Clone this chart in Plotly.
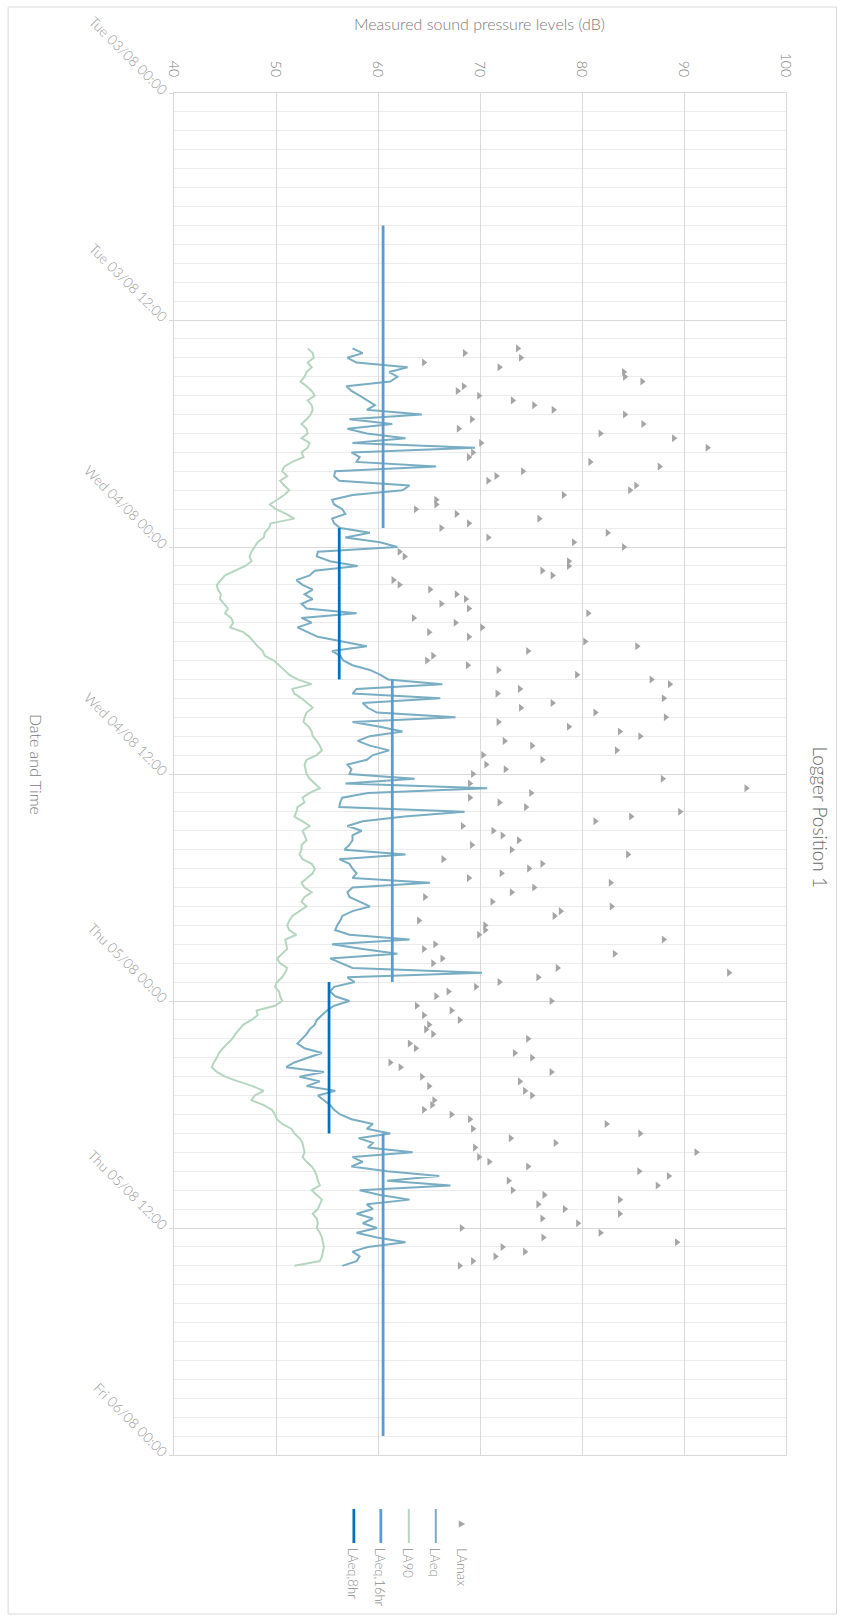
import pandas as pd
import plotly.graph_objects as go

# ---------------- data (15-minute intervals) ----------------
start_time = "2021-08-03 13:30"

laeq = [57.5, 58.5, 57.0, 57.9, 62.9, 61.1, 61.9, 61.2, 56.9, 57.4, 58.2, 59.0, 59.7, 58.9, 64.3, 57.2,
        61.4, 57.0, 58.9, 62.7, 57.5, 69.5, 57.4, 58.2, 57.9, 65.7, 55.8, 55.7, 56.2, 63.1, 62.4, 57.5,
        55.5, 55.7, 56.5, 56.8, 55.5, 55.7, 56.3, 59.2, 56.8, 60.2, 61.9, 54.1, 54.0, 55.3, 58.0, 53.8,
        53.3, 52.0, 52.6, 53.6, 52.8, 53.6, 52.5, 53.0, 57.9, 52.5, 53.5, 52.1, 53.1, 54.1, 56.5, 58.9,
        55.5, 56.3, 56.6, 57.5, 59.2, 60.2, 61.0, 66.3, 57.9, 57.5, 66.1, 58.5, 59.0, 59.9, 67.6, 57.5,
        60.2, 62.4, 59.2, 58.0, 59.2, 61.1, 59.5, 58.9, 57.0, 57.4, 57.2, 63.6, 56.8, 70.7, 59.0, 56.5,
        56.3, 56.2, 68.5, 62.6, 58.5, 57.0, 58.4, 57.5, 57.5, 57.2, 56.7, 62.7, 56.2, 57.2, 57.5, 57.9,
        57.5, 65.1, 57.5, 57.0, 57.2, 58.2, 59.2, 57.5, 56.5, 56.3, 56.0, 55.8, 57.2, 63.1, 55.5, 58.5,
        61.9, 55.3, 56.5, 57.5, 70.2, 57.0, 57.7, 55.7, 55.3, 55.8, 57.2, 55.7, 55.0, 54.5, 54.0, 53.8,
        53.3, 53.0, 52.5, 52.1, 52.8, 54.5, 53.1, 51.8, 51.0, 54.7, 52.3, 54.3, 53.0, 55.8, 54.1, 54.7,
        55.3, 55.7, 56.3, 57.4, 59.5, 58.9, 61.2, 58.1, 59.5, 59.0, 63.4, 57.5, 58.5, 57.4, 60.9, 66.0,
        60.9, 67.1, 58.2, 60.2, 63.1, 58.9, 59.5, 57.9, 59.5, 58.5, 59.9, 57.9, 59.9, 62.7, 59.0, 57.5,
        58.2, 57.9, 56.5]

la90 = [53.1, 53.6, 53.7, 53.1, 53.5, 53.0, 52.8, 52.4, 53.0, 53.5, 53.8, 53.1, 53.5, 53.6, 53.4, 53.0,
        52.5, 53.0, 53.1, 52.5, 53.3, 53.1, 52.5, 52.7, 51.6, 50.8, 50.6, 51.1, 50.4, 50.8, 51.3,
        50.8, 50.1, 49.4, 50.0, 51.0, 51.8, 49.5, 49.3, 48.9, 48.8, 48.2, 47.9, 47.6, 47.4, 47.6, 47.0,
        46.0, 45.0, 44.6, 44.2, 44.3, 44.6, 44.5, 44.9, 45.3, 45.0, 45.6, 45.8, 45.5, 46.8, 47.4, 47.8,
        48.2,
        48.7, 48.9, 49.8, 50.3, 50.8, 51.3, 52.1, 53.5, 51.6, 51.8, 52.5, 53.0, 53.6, 53.0, 52.8, 52.7,
        53.2, 53.5, 53.6, 54.0, 54.3, 54.5, 54.0, 53.0, 52.8, 52.9, 53.0, 53.3, 53.8, 54.3, 53.3, 52.6,
        52.8,
        52.1, 52.0, 51.8, 52.6, 53.3, 52.6, 52.8, 53.0, 52.5, 52.5, 52.3, 52.6, 53.5, 53.8, 53.6, 53.0,
        52.5, 52.8, 53.5, 52.8, 52.5, 53.0, 52.3, 51.6, 51.3, 51.1, 51.3, 52.0, 50.9, 51.0, 51.1, 50.6,
        50.1,
        50.4, 51.1, 50.9, 50.6, 50.1, 49.9, 50.3, 50.4, 50.6, 49.9, 48.1, 48.2, 47.6, 46.8, 46.4, 46.0,
        45.7, 45.2, 44.8, 44.4, 44.2, 43.9, 43.7, 44.2, 45.0, 46.3, 47.7, 48.8, 47.9, 47.6, 48.8, 49.6,
        49.9, 50.1, 50.6, 51.5, 51.8, 52.3, 52.6, 52.7, 52.8, 52.6, 53.0, 53.5, 53.8, 54.0, 54.1, 54.3,
        53.5, 54.0, 54.5, 54.3, 54.1, 53.6, 54.0, 54.1, 54.0, 54.3, 54.5, 54.6, 54.7, 54.6, 54.5, 54.3,
        51.8]

lamax = [73.7, 68.5, 74.0, 64.5, 71.9, 84.1, 84.2, 85.9, 68.4, 67.8, 69.9, 73.2, 75.3, 77.2, 84.2, 69.2,
         86.0, 67.9, 81.8, 89.0, 70.1, 92.3, 69.3, 68.9, 80.8, 87.6, 74.2, 71.6, 70.8, 85.3, 84.7, 78.2,
         65.7, 65.7, 63.7, 67.7, 75.8, 68.9, 66.2, 82.5, 70.8, 79.2, 84.1, 62.1, 62.6, 78.7, 78.7, 76.1,
         77.1, 61.5, 62.1, 65.1, 67.7, 68.6, 66.2, 68.9, 80.6, 63.5, 67.6, 70.2, 65.0, 68.9, 80.3, 85.4,
         74.7, 65.4, 64.8, 68.8, 71.8, 79.5, 86.8, 88.6, 73.9, 71.7, 88.0, 77.1, 74.0, 81.3, 88.2, 71.8,
         78.7, 83.7, 85.7, 72.4, 75.1, 83.4, 70.3, 76.1, 70.6, 72.5, 69.3, 87.9, 69.0, 96.1, 75.0, 69.0,
         71.9, 74.5, 89.6, 84.8, 81.3, 68.3, 71.3, 72.2, 73.8, 69.2, 73.1, 84.5, 66.4, 76.1, 74.8, 72.1,
         68.9, 82.8, 75.3, 73.1, 64.6, 71.2, 82.9, 77.9, 77.3, 64.0, 70.5, 70.5, 69.9, 88.0, 65.6, 64.5,
         83.2, 66.3, 65.4, 77.6, 94.4, 75.7, 71.9, 69.6, 66.9, 65.7, 77.0, 63.8, 67.2, 64.5, 68.0, 65.0,
         64.7, 65.4, 74.7, 63.1, 63.7, 73.4, 75.1, 61.2, 62.2, 77.0, 64.3, 73.9, 65.0, 74.4, 75.1, 65.5,
         65.3, 64.5, 67.2, 69.0, 82.4, 69.3, 85.7, 73.0, 77.4, 69.5, 91.2, 69.9, 70.9, 74.7, 85.6, 88.5,
         72.8, 87.4, 73.2, 76.3, 83.7, 75.7, 78.3, 83.7, 76.1, 79.6, 68.2, 81.8, 76.2, 89.3, 72.2, 74.4,
         71.5, 69.3, 68.0]

# period averages
day_start = ["2021-08-03 07:00", "2021-08-04 07:00", "2021-08-05 07:00"]
day_end = ["2021-08-03 23:00", "2021-08-04 23:00", "2021-08-05 23:00"]
day_laeq16 = [60.5, 61.4, 60.5]
night_start = ["2021-08-03 23:00", "2021-08-04 23:00"]
night_end = ["2021-08-04 07:00", "2021-08-05 07:00"]
night_laeq8 = [56.2, 55.2]

x_range = [40, 100]
y_range = ["2021-08-06 00:00", "2021-08-03 00:00"]
legend_names = ["LAeq,8hr", "LAeq,16hr", "LA90", "LAeq", "LAmax"]

# ---------------- styling ----------------
FONT = "Lato"
GRAY = "#8c8c8c"
GRID = "#d9d9d9"
C_LAEQ = "#79adc3"
C_LA90 = "#b6d6c0"
C_16 = "#5b9bd5"
C_8 = "#0070c0"
C_MAX = "#a5a5a5"

times = pd.date_range(start_time, periods=len(laeq), freq="15min")


def segments(starts, ends, vals):
    xs, ys = [], []
    for s, e, v in zip(starts, ends, vals):
        xs += [v, v, None]
        ys += [pd.Timestamp(s), pd.Timestamp(e), None]
    return xs, ys


fig = go.Figure()
fig.add_trace(go.Scatter(x=lamax, y=times, mode="markers", name="LAmax",
                         marker=dict(symbol="triangle-right", size=7, color=C_MAX)))
fig.add_trace(go.Scatter(x=laeq, y=times, mode="lines", name="LAeq",
                         line=dict(color=C_LAEQ, width=2)))
fig.add_trace(go.Scatter(x=la90, y=times, mode="lines", name="LA90",
                         line=dict(color=C_LA90, width=2)))
sx, sy = segments(day_start, day_end, day_laeq16)
fig.add_trace(go.Scatter(x=sx, y=sy, mode="lines", name="LAeq,16hr",
                         line=dict(color=C_16, width=2.75)))
sx, sy = segments(night_start, night_end, night_laeq8)
fig.add_trace(go.Scatter(x=sx, y=sy, mode="lines", name="LAeq,8hr",
                         line=dict(color=C_8, width=2.75)))

# plot area in page pixels
PL, PR, PT, PB = 174, 786.5, 93, 1455
W, H = 841, 1621


def px(x):
    return (x - PL) / (PR - PL)


def py(y):
    return (PB - y) / (PB - PT)


fig.update_layout(
    width=W, height=H, autosize=False,
    margin=dict(l=PL, r=W - PR, t=PT, b=H - PB, pad=0),
    paper_bgcolor="white", plot_bgcolor="white",
    font=dict(family=FONT, color=GRAY, size=13, weight=300),
    showlegend=False,
    xaxis=dict(range=x_range, side="top", tick0=40, dtick=10, tickangle=90,
               tickfont=dict(size=14, color="#7a7a7a", family=FONT, weight=300),
               showgrid=True, gridcolor=GRID, gridwidth=1, zeroline=False,
               showline=True, linecolor=GRID, linewidth=1, mirror=True, ticks="",
               ticklabelstandoff=10),
    yaxis=dict(type="date", range=y_range, tick0="2021-08-03", dtick=43200000,
               tickformat="%a %d/%m %H:%M", tickangle=45,
               tickfont=dict(size=14, color="#999999", family=FONT, weight=300),
               ticks="outside", ticklen=4, tickcolor=GRID,
               showgrid=True, gridcolor=GRID, gridwidth=1, zeroline=False,
               showline=True, linecolor=GRID, linewidth=1, mirror=True,
               minor=dict(dtick=3600000, showgrid=True, gridcolor="#ececec", ticks="")),
)

annotations = [
    dict(text="Measured sound pressure levels (dB)", x=px(480), y=py(24),
         font=dict(size=16, color="#7a7a7a", family=FONT, weight=300)),
    dict(text="Date and Time", x=px(37), y=py(764), textangle=90,
         font=dict(size=16, color="#7a7a7a", family=FONT, weight=300)),
    dict(text="Logger Position 1", x=px(822), y=py(817), textangle=90,
         font=dict(size=19, color="#6a6a6a", family=FONT, weight=300)),
]
legend_x = [354, 381, 409, 436, 462]
for name, lx in zip(legend_names, legend_x):
    annotations.append(dict(text=name, x=px(lx), y=py(1546), textangle=90,
                            xanchor="center", yanchor="top",
                            font=dict(size=13, color="#8c8c8c", family=FONT, weight=300)))
for a in annotations:
    a.update(xref="paper", yref="paper", showarrow=False)
    a.setdefault("xanchor", "center")
    a.setdefault("yanchor", "middle")
fig.update_layout(annotations=annotations)

shapes = [
    dict(type="rect", x0=px(8), x1=px(837), y0=py(7), y1=py(1614),
         line=dict(color=GRID, width=1), fillcolor="rgba(0,0,0,0)", layer="below"),
]
legend_colors = [C_8, C_16, C_LA90, C_LAEQ]
for c, lx in zip(legend_colors, legend_x[:4]):
    shapes.append(dict(type="line", x0=px(lx), x1=px(lx), y0=py(1509), y1=py(1543),
                       line=dict(color=c, width=2.75 if c in (C_8, C_16) else 2)))
tx = legend_x[4]
shapes.append(dict(type="path",
                   path=f"M {px(tx-3)} {py(1520.5)} L {px(tx-3)} {py(1527.5)} L {px(tx+3.5)} {py(1524)} Z",
                   fillcolor=C_MAX, line=dict(width=0)))
for s in shapes:
    s.update(xref="paper", yref="paper")
fig.update_layout(shapes=shapes)

fig.write_html("out.html", config={"displayModeBar": False},
               post_script="document.body.style.margin='0';")
